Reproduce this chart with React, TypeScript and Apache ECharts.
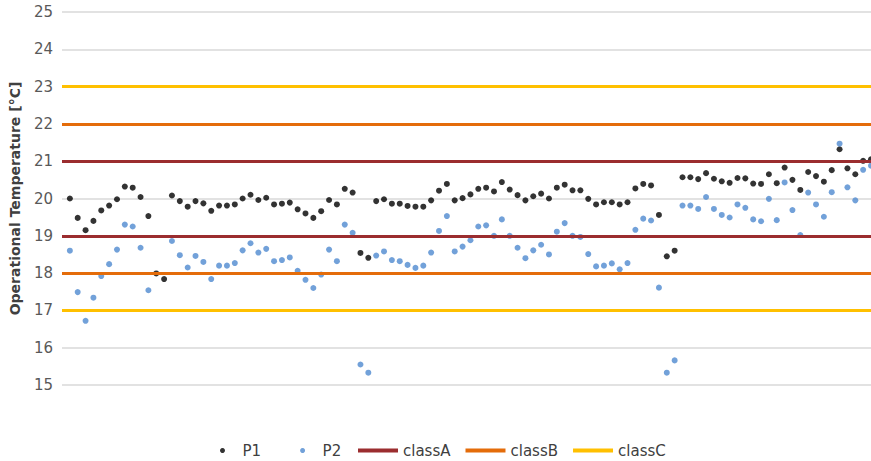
import React, { useEffect, useRef } from "react";
import * as echarts from "echarts";

// Measured operational temperatures for two positions (one reading per step)
const p1Values: number[] = [
  20.0, 19.48, 19.15, 19.4, 19.68, 19.81, 19.98, 20.32, 20.29, 20.04,
  19.53, 17.99, 17.84, 20.08, 19.93, 19.78, 19.93, 19.87, 19.67, 19.81,
  19.81, 19.84, 20.0, 20.1, 19.96, 20.02, 19.84, 19.86, 19.89, 19.71,
  19.6, 19.48, 19.66, 19.96, 19.84, 20.26, 20.16, 18.54, 18.41, 19.93,
  19.98, 19.86, 19.86, 19.8, 19.78, 19.78, 19.95, 20.21, 20.39, 19.95,
  20.01, 20.11, 20.26, 20.29, 20.19, 20.44, 20.24, 20.09, 19.95, 20.06,
  20.13, 20.0, 20.29, 20.37, 20.22, 20.22, 19.99, 19.84, 19.9, 19.9,
  19.84, 19.9, 20.27, 20.39, 20.35, 19.56, 18.45, 18.6, 20.57, 20.57,
  20.52, 20.68, 20.53, 20.46, 20.42, 20.55, 20.54, 20.4, 20.39, 20.65,
  20.41, 20.83, 20.5, 20.23, 20.71, 20.6, 20.45, 20.76, 21.32, 20.81,
  20.65, 21.01, 21.05,
];

const p2Values: (number | null)[] = [
  18.6, 17.49, 16.72, 17.34, 17.92, 18.24, 18.63, 19.3, 19.25, 18.68,
  17.54, null, null, 18.86, 18.48, 18.15, 18.46, 18.3, 17.84, 18.2,
  18.2, 18.27, 18.61, 18.8, 18.55, 18.65, 18.32, 18.35, 18.42, 18.06,
  17.82, 17.6, 17.96, 18.63, 18.32, 19.3, 19.08, 15.55, 15.33, 18.47,
  18.58, 18.35, 18.32, 18.22, 18.14, 18.2, 18.55, 19.13, 19.53, 18.58,
  18.71, 18.88, 19.25, 19.28, 19.0, 19.44, 19.0, 18.68, 18.4, 18.61,
  18.76, 18.5, 19.11, 19.34, 19.0, 18.97, 18.51, 18.18, 18.2, 18.26,
  18.1, 18.27, 19.16, 19.46, 19.41, 17.61, 15.33, 15.66, 19.81, 19.81,
  19.72, 20.04, 19.72, 19.56, 19.49, 19.84, 19.75, 19.44, 19.39, 19.99,
  19.42, 20.43, 19.69, 19.02, 20.16, 19.84, 19.51, 20.17, 21.47, 20.3,
  19.95, 20.77, 20.88,
];

// Comfort class bands: lower and upper limits
const classALimits = [19, 21];
const classBLimits = [18, 22];
const classCLimits = [17, 23];

const yMin = 15;
const yMax = 25;

const FONT = "'DejaVu Sans', sans-serif";

const toPoints = (vals: (number | null)[]) =>
  vals.map((v, i) => (v === null ? null : [i + 1, v])).filter((p) => p !== null);

const limitSeries = (name: string, color: string, limits: number[]) => ({
  name,
  type: "line",
  data: [],
  z: 1,
  itemStyle: { color },
  lineStyle: { color, width: 3 },
  markLine: {
    silent: true,
    symbol: "none",
    label: { show: false },
    lineStyle: { color, width: 3, type: "solid" },
    data: limits.map((y) => ({ yAxis: y })),
  },
});

export default function App() {
  const ref = useRef<HTMLDivElement>(null);

  useEffect(() => {
    if (!ref.current) return;
    const chart = echarts.init(ref.current, null, { renderer: "svg" });
    chart.setOption({
      animation: false,
      backgroundColor: "#ffffff",
      grid: { left: 61, right: 0, top: 12, bottom: 76, containLabel: false },
      xAxis: {
        type: "value",
        min: 0,
        max: 103,
        show: false,
      },
      yAxis: {
        type: "value",
        min: yMin,
        max: yMax,
        interval: 1,
        name: "Operational Temperature [°C]",
        nameLocation: "middle",
        nameGap: 40,
        nameTextStyle: {
          fontFamily: FONT,
          fontSize: 14,
          fontWeight: "bold",
          color: "#404040",
        },
        axisLine: { show: false },
        axisTick: { show: false },
        axisLabel: {
          fontFamily: FONT,
          fontSize: 15,
          color: "#595959",
          margin: 9,
        },
        splitLine: { lineStyle: { color: "#d9d9d9", width: 1.5 } },
      },
      legend: [
        {
          data: [
            { name: "P1", icon: "circle" },
            { name: "P2", icon: "circle" },
          ],
          left: 215,
          top: 438,
          itemWidth: 30,
          itemHeight: 5,
          itemGap: 39,
          textStyle: { fontFamily: FONT, fontSize: 15, color: "#404040" },
        },
        {
          data: [
            { name: "classA", icon: "rect" },
            { name: "classB", icon: "rect" },
            { name: "classC", icon: "rect" },
          ],
          left: 353,
          top: 438,
          itemWidth: 40,
          itemHeight: 4,
          itemGap: 15,
          textStyle: { fontFamily: FONT, fontSize: 15, color: "#404040" },
        },
      ],
      series: [
        limitSeries("classA", "#9b2d2f", classALimits),
        limitSeries("classB", "#e46c0a", classBLimits),
        limitSeries("classC", "#ffc000", classCLimits),
        {
          name: "P1",
          type: "scatter",
          z: 3,
          clip: false,
          symbolSize: 6,
          itemStyle: { color: "#000000" },
          data: toPoints(p1Values),
        },
        {
          name: "P2",
          type: "scatter",
          z: 4,
          clip: false,
          symbolSize: 6,
          itemStyle: { color: "#4f8ad0" },
          data: toPoints(p2Values),
        },
      ],
    });
    return () => chart.dispose();
  }, []);

  return (
    <div
      ref={ref}
      style={{ position: "fixed", left: 0, top: 0, width: 871, height: 461 }}
    />
  );
}
